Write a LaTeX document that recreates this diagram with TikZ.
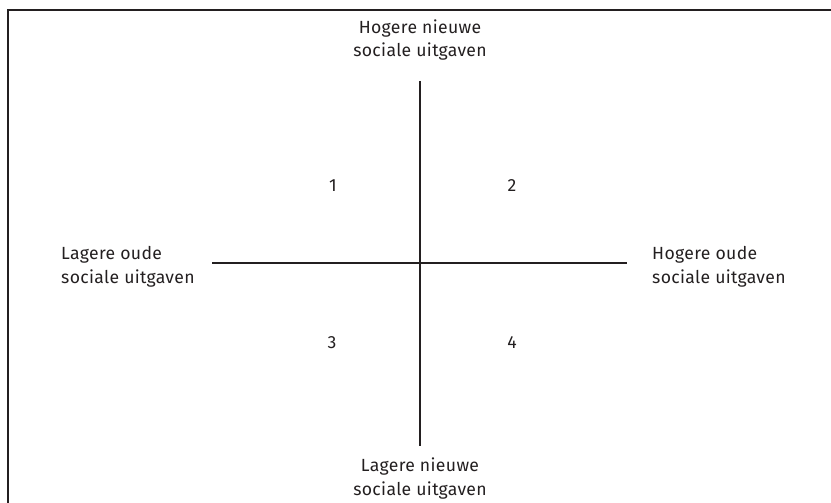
\documentclass[tikz,border=0pt]{standalone}
\usepackage{fontspec}
\setmainfont{Fira Sans}[LetterSpace=2]
\definecolor{ink}{HTML}{231F20}
\begin{document}
\begin{tikzpicture}[x=1pt,y=-1pt,
  lbl/.style={inner sep=0pt, text=ink, font=\fontsize{17.6}{24}\selectfont},
  axis/.style={draw=ink, line width=2pt},
  frame/.style={draw=ink, line width=1.4pt}]
\useasboundingbox (0,0) rectangle (831,503);
\coordinate (fa) at (8,503);
\coordinate (fb) at (8,10);
\coordinate (fc) at (831,10);
\draw[frame] (fa) -- (fb) -- (fc);
\coordinate (vt) at (420,81);
\coordinate (vb) at (420,446);
\coordinate (hl) at (212,263);
\coordinate (hr) at (627,263);
\draw[axis] (vt) -- (vb);
\draw[axis] (hl) -- (hr);
\node[lbl, align=center, anchor=base] (top) at (420,57) {Hogere nieuwe\\sociale uitgaven};
\node[lbl, align=center, anchor=base] (bot) at (420,495) {Lagere nieuwe\\sociale uitgaven};
\node[lbl, align=left, anchor=base west] (lft) at (61,283) {Lagere oude\\sociale uitgaven};
\node[lbl, align=left, anchor=base west] (rgt) at (652,283) {Hogere oude\\sociale uitgaven};
\node[lbl, anchor=base] (q1) at (333,191) {1};
\node[lbl, anchor=base] (q2) at (512,191) {2};
\node[lbl, anchor=base] (q3) at (332,348) {3};
\node[lbl, anchor=base] (q4) at (512,348) {4};
\end{tikzpicture}
\end{document}
